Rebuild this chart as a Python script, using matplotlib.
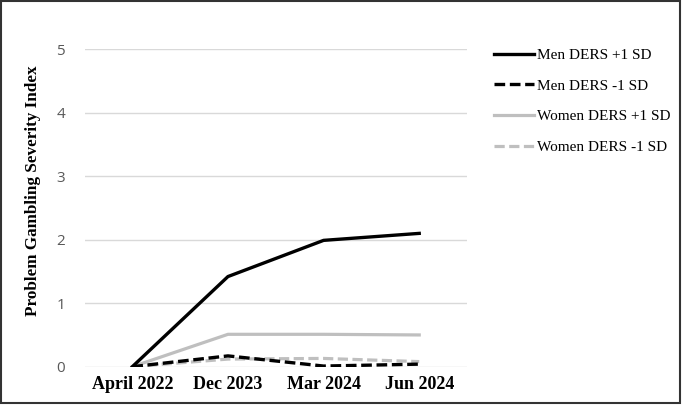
import numpy as np
import matplotlib.pyplot as plt
from matplotlib.patches import Rectangle

# data
waves = ['April 2022', 'Dec 2023', 'Mar 2024', 'Jun 2024']
men_high = [0.0, 1.42, 1.99, 2.10]
men_low = [0.0, 0.17, 0.01, 0.04]
women_high = [0.0, 0.51, 0.51, 0.50]
women_low = [0.0, 0.12, 0.13, 0.08]

fig = plt.figure(figsize=(6.85, 4.05), dpi=100)
ax = fig.add_axes([0.1234, 0.0946, 0.5584, 0.7837])

x = np.arange(len(waves))
dash = (0, (3.2, 1.4))
ax.plot(x, women_high, color='#BFBFBF', lw=2.3, label='Women DERS +1 SD', zorder=3)
ax.plot(x, women_low, color='#BFBFBF', lw=2.3, ls=dash, label='Women DERS -1 SD', zorder=3)
ax.plot(x, men_high, color='black', lw=2.4, label='Men DERS +1 SD', zorder=4)
ax.plot(x, men_low, color='black', lw=2.4, ls=dash, label='Men DERS -1 SD', zorder=4)

ax.set_xlim(-0.5, 3.5)
ax.set_ylim(0, 5)
ax.set_yticks(range(6))
ax.set_xticks(x)
ax.set_xticklabels(waves, fontfamily='Liberation Serif', fontweight='bold', fontsize=13)
for lab in ax.get_yticklabels():
    lab.set_fontfamily('Open Sans')
    lab.set_fontsize(11)
    lab.set_color('#595959')
ax.tick_params(axis='both', length=0)
ax.tick_params(axis='y', pad=14)
ax.tick_params(axis='x', pad=7)
ax.grid(axis='y', color='#D9D9D9', lw=1)
for s in ax.spines.values():
    s.set_visible(False)

ax.set_ylabel('Problem Gambling Severity Index', fontfamily='Liberation Serif',
              fontweight='bold', fontsize=12.3)
ax.yaxis.set_label_coords(-0.115, 0.553)

h, l = ax.get_legend_handles_labels()
order = [2, 3, 0, 1]
leg = fig.legend([h[i] for i in order], [l[i] for i in order],
                 loc='upper left', bbox_to_anchor=(0.701, 0.915),
                 frameon=False, handlelength=2.6, handletextpad=0.25,
                 labelspacing=1.12, prop={'family': 'Liberation Serif', 'size': 11})

fig.patches.append(Rectangle((0.0015, 0.005), 0.991, 0.992, transform=fig.transFigure,
                             fill=False, edgecolor='#333333', lw=1.5))

fig.savefig('out.png', dpi=100)
